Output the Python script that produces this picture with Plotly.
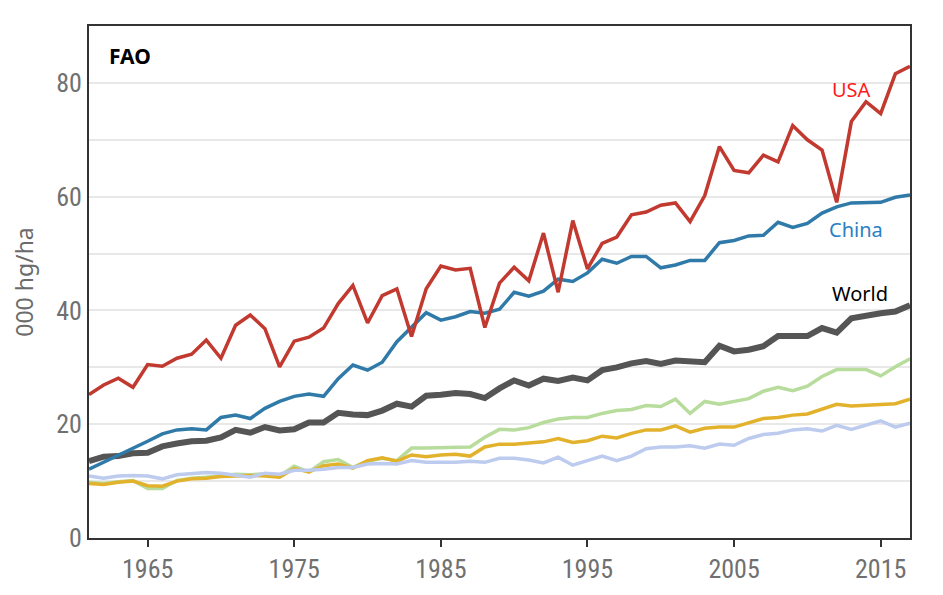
import plotly.graph_objects as go

years = list(range(1961, 2018))

usa = [25.2, 26.9, 28.1, 26.5, 30.5, 30.2, 31.6, 32.3, 34.8, 31.6,
       37.4, 39.2, 36.8, 30.1, 34.6, 35.3, 36.9, 41.2, 44.4, 37.8,
       42.6, 43.8, 35.4, 43.8, 47.8, 47.1, 47.4, 37.0, 44.8, 47.6,
       45.2, 53.6, 43.2, 55.8, 47.3, 51.8, 52.9, 56.8, 57.3, 58.5,
       58.9, 55.6, 60.2, 68.8, 64.6, 64.2, 67.3, 66.1, 72.5, 70.0,
       68.2, 59.0, 73.2, 76.7, 74.6, 81.6, 82.9]

china = [12.1, 13.3, 14.5, 15.8, 17.0, 18.3, 19.0, 19.2, 19.0, 21.2,
         21.6, 21.0, 22.8, 24.0, 24.9, 25.3, 24.9, 28.0, 30.4, 29.5,
         30.9, 34.5, 37.1, 39.6, 38.3, 38.9, 39.8, 39.5, 40.2, 43.2,
         42.5, 43.4, 45.5, 45.1, 46.6, 49.0, 48.3, 49.5, 49.5, 47.5,
         48.0, 48.8, 48.8, 51.9, 52.3, 53.1, 53.2, 55.5, 54.6, 55.3,
         57.1, 58.2, 58.9, 58.9, 59.0, 59.9, 60.3]

world = [13.5, 14.3, 14.4, 14.9, 15.0, 16.1, 16.6, 17.0, 17.1, 17.7,
         19.0, 18.5, 19.5, 18.9, 19.1, 20.3, 20.3, 22.0, 21.7, 21.6,
         22.4, 23.6, 23.1, 25.0, 25.2, 25.5, 25.3, 24.6, 26.3, 27.7,
         26.8, 28.0, 27.6, 28.2, 27.7, 29.5, 30.0, 30.7, 31.1, 30.6,
         31.2, 31.0, 30.9, 33.8, 32.8, 33.1, 33.7, 35.5, 35.6, 35.5,
         36.9, 36.1, 38.6, 39.1, 39.5, 39.8, 40.9]

green = [9.8, 9.6, 9.9, 10.1, 8.7, 8.7, 10.1, 10.5, 10.7, 11.0,
         11.2, 11.1, 11.3, 10.9, 12.6, 11.6, 13.4, 13.8, 12.4, 13.5,
         14.0, 13.6, 15.8, 15.8, 15.9, 16.0, 16.0, 17.7, 19.1, 19.0,
         19.4, 20.3, 20.9, 21.2, 21.2, 21.9, 22.4, 22.6, 23.3, 23.1,
         24.4, 21.9, 24.0, 23.5, 24.0, 24.5, 25.8, 26.5, 25.9, 26.7,
         28.4, 29.6, 29.6, 29.6, 28.5, 30.1, 31.5]

gold = [9.6, 9.4, 9.8, 10.0, 9.2, 9.1, 10.0, 10.4, 10.5, 10.8,
        10.9, 11.0, 10.9, 10.7, 12.2, 11.6, 12.7, 13.0, 12.3, 13.6,
        14.1, 13.5, 14.6, 14.3, 14.6, 14.7, 14.4, 16.0, 16.5, 16.5,
        16.7, 16.9, 17.5, 16.8, 17.1, 17.9, 17.6, 18.4, 19.0, 19.0,
        19.7, 18.6, 19.3, 19.5, 19.5, 20.3, 21.0, 21.2, 21.6, 21.8,
        22.6, 23.5, 23.2, 23.3, 23.4, 23.6, 24.4]

lavender = [10.9, 10.5, 10.9, 11.0, 10.9, 10.4, 11.1, 11.3, 11.5, 11.4,
            11.1, 10.7, 11.4, 11.2, 11.9, 11.9, 12.1, 12.4, 12.4, 13.0,
            13.1, 13.0, 13.6, 13.3, 13.3, 13.3, 13.5, 13.3, 14.0, 14.0,
            13.7, 13.2, 14.2, 12.8, 13.6, 14.4, 13.6, 14.4, 15.7, 16.0,
            16.0, 16.2, 15.8, 16.5, 16.3, 17.5, 18.2, 18.4, 19.0, 19.2,
            18.8, 19.8, 19.1, 19.8, 20.6, 19.5, 20.2]

x_ticks = [1965, 1975, 1985, 1995, 2005, 2015]
y_ticks = [0, 10, 20, 30, 40, 50, 60, 70, 80]
y_ticktext = ["0", "", "20", "", "40", "", "60", "", "80"]

fig = go.Figure()
series = [
    ("Series A", green, "#b7dc9c", 3.5),
    ("Series B", gold, "#e3b22d", 3.5),
    ("Series C", lavender, "#bccbee", 3.5),
    ("World", world, "#555555", 6),
    ("China", china, "#2f7aa8", 3.5),
    ("USA", usa, "#c1392f", 3.5),
]
for name, vals, col, w in series:
    fig.add_trace(go.Scatter(x=years, y=vals, mode="lines", name=name,
                             line=dict(color=col, width=w), showlegend=False))

label_font = "Noto Sans, Open Sans, sans-serif"
fig.add_annotation(x=2013.0, y=78.9, text="USA", showarrow=False,
                   font=dict(family=label_font, size=20, color="#ff1a1a"))
fig.add_annotation(x=2013.3, y=54.2, text="China", showarrow=False,
                   font=dict(family=label_font, size=20, color="#2a7fc4"))
fig.add_annotation(x=2013.6, y=43.0, text="World", showarrow=False,
                   font=dict(family=label_font, size=20, color="#000000"))
fig.add_annotation(x=0.022, y=0.942, xref="paper", yref="paper", text="<b>FAO</b>",
                   showarrow=False, xanchor="left", yanchor="middle",
                   font=dict(family=label_font, size=21, color="#000000"))

tick_font = dict(family="Liberation Sans Narrow, Roboto Condensed, Open Sans, sans-serif",
                 size=26, color="#707070")

fig.update_layout(
    width=935, height=587,
    margin=dict(l=81, r=33, t=18, b=57),
    paper_bgcolor="white", plot_bgcolor="white",
    xaxis=dict(range=[1961, 2017], tickvals=x_ticks, ticks="outside",
               ticklen=7, tickwidth=2, tickcolor="#333333",
               showline=True, linecolor="#333333", linewidth=2, mirror=True,
               showgrid=False, zeroline=False, tickfont=tick_font),
    yaxis=dict(range=[0, 90], tickvals=y_ticks, ticktext=y_ticktext,
               showline=True, linecolor="#333333", linewidth=2, mirror=True,
               showgrid=True, gridcolor="#e8e8e8", gridwidth=1.5,
               zeroline=False, ticks="", tickfont=tick_font,
               title=dict(text="000 hg/ha", standoff=18,
                          font=dict(family="Noto Sans, Open Sans, sans-serif",
                                    size=23, color="#6b6b6b"))),
)

fig.write_html("out.html")
